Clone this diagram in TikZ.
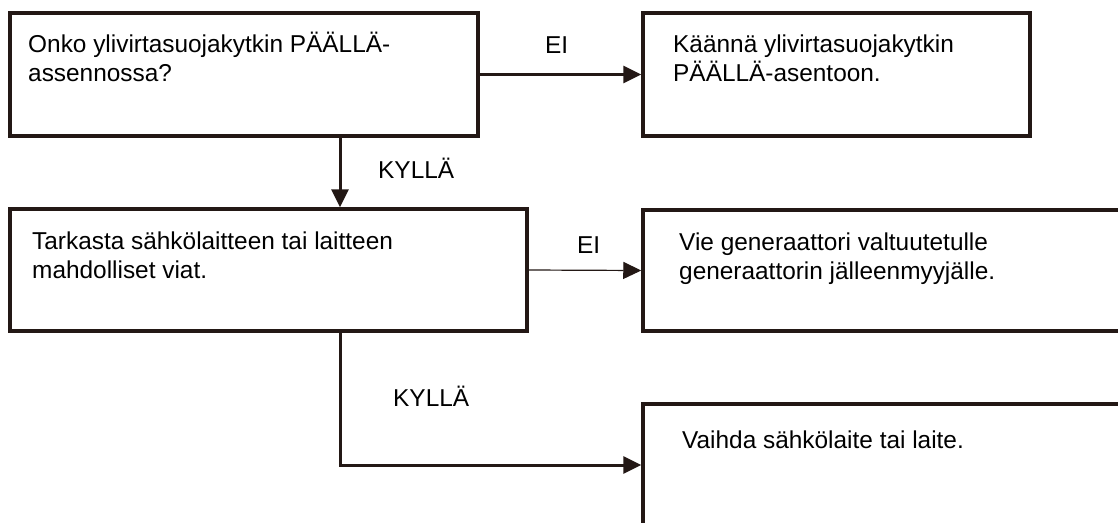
\documentclass[tikz,border=0pt]{standalone}
\usepackage{fontspec}
\setmainfont{Liberation Sans}
\usetikzlibrary{arrows.meta}
\definecolor{ink}{HTML}{231815}
\tikzset{
  box/.style={draw=ink, line width=3.5pt, rectangle, inner sep=0pt, fill=white},
  txt/.style={anchor=base west, inner sep=0pt, font=\fontsize{24.4}{29.5}\selectfont, align=left, text=black},
  lbl/.style={anchor=base west, inner sep=0pt, font=\fontsize{24.4}{29.5}\selectfont, text=black},
  conn/.style={draw=ink, line width=3pt, -{Triangle[length=18pt,width=17pt]}},
  thinconn/.style={draw=ink, line width=1.2pt, -{Triangle[length=18pt,width=17pt]}}
}
\begin{document}
\begin{tikzpicture}[x=1pt,y=-1pt]
\useasboundingbox (0,0) rectangle (1118,522);
\fill[white] (0,0) rectangle (1118,522);
% boxes
\node[box, minimum width=468pt, minimum height=123pt] (b1) at (244,74.5) {};
\node[box, minimum width=387pt, minimum height=123pt] (b2) at (836.5,74.5) {};
\node[box, minimum width=517pt, minimum height=122pt] (b3) at (268.5,270) {};
\node[box, minimum width=482pt, minimum height=121pt] (b4) at (884,270.5) {};
\node[box, minimum width=482pt, minimum height=156pt] (b5) at (884,482) {};
% texts (base anchor = last line's baseline)
\node[txt] (t1) at (28,81.5) {Onko ylivirtasuojakytkin PÄÄLLÄ-\\assennossa?};
\node[txt] (t2) at (673,81.5) {Käännä ylivirtasuojakytkin\\PÄÄLLÄ-asentoon.};
\node[txt] (t3) at (32,278.5) {Tarkasta sähkölaitteen tai laitteen\\mahdolliset viat.};
\node[txt] (t4) at (679,279.5) {Vie generaattori valtuutetulle\\generaattorin jälleenmyyjälle.};
\node[txt] (t5) at (682,448) {Vaihda sähkölaite tai laite.};
% labels
\node[lbl] (l1) at (545,53) {EI};
\node[lbl] (l2) at (577,253) {EI};
\node[lbl] (l3) at (378,178) {KYLLÄ};
\node[lbl] (l4) at (393,406) {KYLLÄ};
% connectors
\coordinate (c1) at (340,0);
\coordinate (c2) at (0,465);
\draw[conn] (b1.east) -- (b2.west);
\draw[conn] (b1.south -| c1) -- (b3.north -| c1);
\draw[thinconn] (b3.east) -- (b4.west);
\draw[conn] (b3.south -| c1) |- (b5.west |- c2);
\end{tikzpicture}
\end{document}
